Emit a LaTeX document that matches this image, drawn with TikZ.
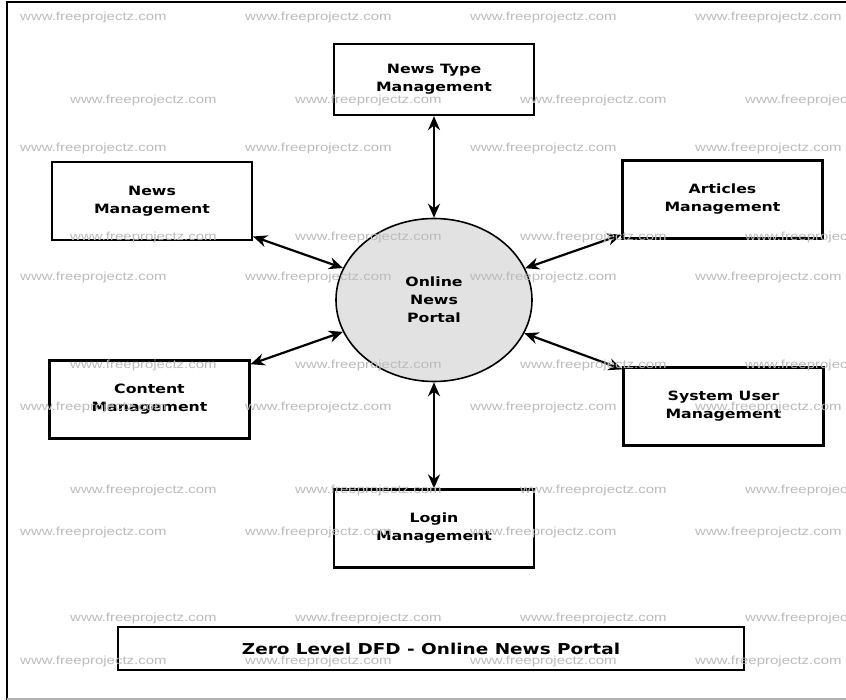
\documentclass[tikz,border=0pt]{standalone}
\usepackage{fontspec}
\usetikzlibrary{positioning,arrows.meta,shapes.geometric}
\newfontfamily\dfdfont{DejaVu Sans}[FakeStretch=1.23]
\newfontfamily\wmfont{Liberation Sans}[FakeStretch=1.28]
\definecolor{bubble}{HTML}{E2E2E2}
\definecolor{wmgray}{HTML}{BBBBBB}

\begin{document}
\begin{tikzpicture}[
  x=1pt, y=-1pt,
  every node/.style={align=center, inner sep=0pt},
  entity/.style={draw, line width=2.2pt, fill=white, minimum width=200pt,
                 minimum height=78pt, font=\dfdfont\bfseries\fontsize{12.8}{18}\selectfont},
  process/.style={ellipse, draw, line width=1.6pt, fill=bubble, minimum width=196pt,
                  minimum height=163pt, font=\dfdfont\bfseries\fontsize{12.8}{18}\selectfont},
  arr/.style={{Stealth[length=14pt,width=12pt]}-{Stealth[length=14pt,width=12pt]}, line width=2.2pt},
  wm/.style={anchor=west, text=wmgray, font=\wmfont\fontsize{11.7}{12}\selectfont}
]
\useasboundingbox (0,0) rectangle (846,700);
% page frame
\draw[line width=2pt] (7,700) -- (7,2) -- (846,2);
\draw[gray!60, line width=1.5pt] (7,699) -- (846,699);

% process and entities
\node[process] (portal) at (434,300) {Online\\News\\Portal};
\node[entity, minimum height=71pt] (ntm) at (434,79.5) {News Type\\Management};
\node[entity] (nm) at (152,201) {News\\Management};
\node[entity] (am) at (722.5,199.5) {Articles\\Management};
\node[entity] (cm) at (149.5,399.5) {Content\\Management};
\node[entity] (sum) at (723.5,406.5) {System User\\Management};
\node[entity] (lm) at (434,528.5) {Login\\Management};
\node[entity, minimum width=626pt, minimum height=43pt,
      font=\dfdfont\bfseries\fontsize{15}{18}\selectfont] (title) at (431,648.5)
      {Zero Level DFD - Online News Portal};

% data flows
\draw[arr] (ntm) -- (portal);
\draw[arr] (nm) -- (portal);
\draw[arr] (am) -- (portal);
\draw[arr] (cm) -- (portal);
\draw[arr] (sum) -- (portal);
\draw[arr] (lm) -- (portal);

% watermark
\foreach \y in {17,148,277,407,532,661}
  \foreach \x in {20,245,470,695}
    \node[wm] (wa-\x-\y) at (\x,\y) {www.freeprojectz.com};
\foreach \y in {100,237,365,490,618}
  \foreach \x in {70,295,520,745}
    \node[wm] (wb-\x-\y) at (\x,\y) {www.freeprojectz.com};
\end{tikzpicture}
\end{document}
